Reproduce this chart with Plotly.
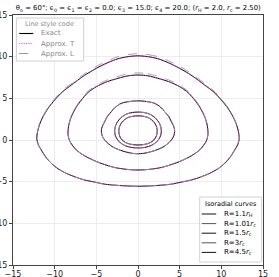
import plotly.graph_objects as go

# Right halves (x >= 0) of the isoradial curves, from top (x=0) to bottom (x=0); curves are mirror-symmetric in x
r45_x = [0.0, 1.2, 2.4, 3.7, 5.0, 6.5, 8.0, 9.1, 10.0, 10.8, 11.4, 11.8, 12.05, 12.15, 11.95, 11.6, 11.1, 10.4, 9.6, 8.6, 7.5, 6.4, 5.2, 4.0, 2.8, 1.6, 0.0]
r45_y = [10.1, 10.0, 9.75, 9.25, 8.6, 7.7, 6.6, 5.75, 4.8, 3.8, 2.8, 1.9, 1.0, 0.2, -0.6, -1.2, -2.0, -2.8, -3.45, -4.0, -4.45, -4.8, -5.05, -5.3, -5.42, -5.5, -5.55]
r45_L_y = [10.35, 10.25, 10.0, 9.48, 8.83, 7.9, 6.78, 5.9, 4.93, 3.9, 2.88, 1.95, 1.03, 0.2, -0.6, -1.2, -2.0, -2.8, -3.45, -4.0, -4.45, -4.8, -5.05, -5.3, -5.42, -5.5, -5.55]

r3_x = [0.0, 1.2, 2.4, 3.7, 5.0, 6.0, 6.8, 7.5, 8.0, 8.3, 8.4, 8.25, 7.9, 7.4, 6.4, 5.2, 4.0, 2.8, 1.4, 0.0]
r3_y = [7.8, 7.7, 7.4, 7.0, 6.4, 5.7, 4.8, 3.8, 2.8, 1.8, 0.8, 0.0, -0.6, -1.2, -1.9, -2.5, -2.95, -3.3, -3.52, -3.6]
r3_L_y = [8.05, 7.95, 7.63, 7.2, 6.58, 5.85, 4.93, 3.9, 2.88, 1.84, 0.82, 0.0, -0.6, -1.2, -1.9, -2.5, -2.95, -3.3, -3.52, -3.6]

r15_x = [0.0, 1.0, 2.0, 2.7, 3.2, 3.7, 4.0, 4.3, 4.4, 4.3, 4.0, 3.55, 3.0, 2.2, 1.4, 0.7, 0.0]
r15_y = [4.7, 4.62, 4.4, 3.95, 3.4, 2.8, 2.2, 1.6, 1.1, 0.5, 0.0, -0.45, -0.85, -1.2, -1.45, -1.6, -1.65]

r101_x = [0.0, 0.7, 1.4, 1.9, 2.3, 2.6, 2.75, 2.8, 2.72, 2.5, 2.1, 1.6, 1.0, 0.5, 0.0]
r101_y = [3.35, 3.3, 3.1, 2.8, 2.4, 1.95, 1.5, 1.0, 0.55, 0.1, -0.35, -0.65, -0.85, -0.93, -0.95]

r11h_x = [0.0, 0.6, 1.2, 1.6, 1.95, 2.2, 2.3, 2.28, 2.15, 1.9, 1.5, 1.0, 0.5, 0.0]
r11h_y = [2.9, 2.85, 2.7, 2.45, 2.1, 1.65, 1.2, 0.8, 0.35, 0.0, -0.3, -0.48, -0.57, -0.6]

curve_names = ["R=1.1<i>r</i><sub>H</sub>", "R=1.01<i>r</i><sub>c</sub>", "R=1.5<i>r</i><sub>c</sub>",
               "R=3<i>r</i><sub>c</sub>", "R=4.5<i>r</i><sub>c</sub>"]
exact = [(r11h_x, r11h_y), (r101_x, r101_y), (r15_x, r15_y), (r3_x, r3_y), (r45_x, r45_y)]
approx_T = exact
approx_L = [(r11h_x, r11h_y), (r101_x, r101_y), (r15_x, r15_y), (r3_x, r3_L_y), (r45_x, r45_L_y)]
legend_colors = ["#111111", "#555555", "#111111", "#555555", "#111111"]

style_names = ["Exact", "Approx. T", "Approx. L"]
style_colors = ["black", "#ff33ff", "#999999"]
style_dash = ["solid", "1px,1.3px", "dash"]

tick_vals = [-15, -10, -5, 0, 5, 10, 15]
tick_text = ["−15", "−10", "−5", "0", "5", "10", "15"]


def closed(hx, hy):
    xs = list(hx) + [-v for v in reversed(hx[:-1])]
    ys = list(hy) + list(reversed(hy[:-1]))
    return xs, ys


fig = go.Figure()

for group, col, dsh, w, op in [(exact, "black", "solid", 1.0, 1.0),
                               (approx_T, "#ee33ee", "1px,1.3px", 1.0, 0.9),
                               (approx_L, "#999999", "dash", 0.9, 1.0)]:
    for i, (hx, hy) in enumerate(group):
        xs, ys = closed(hx, hy)
        fig.add_trace(go.Scatter(x=xs, y=ys, mode="lines", name=curve_names[i], showlegend=False,
                                 opacity=op, line=dict(color=col, width=w, dash=dsh, shape="spline",
                                                       smoothing=0.8)))

# plot area in pixels: x 13.3..263.3, y 15..265
def px_x(p):
    return (p - 13.3) / 250.0


def px_y(p):
    return (265.0 - p) / 250.0


shapes = []
annotations = []

# Legend 1: line style code (top-left)
shapes.append(dict(type="rect", xref="paper", yref="paper", x0=px_x(16.7), x1=px_x(84), y0=px_y(61), y1=px_y(18),
                   line=dict(color="#d0d0d0", width=1), fillcolor="rgba(255,255,255,0.85)", layer="above"))
annotations.append(dict(xref="paper", yref="paper", x=px_x(50), y=px_y(24), text="Line style code",
                        showarrow=False, xanchor="center", yanchor="middle",
                        font=dict(size=6.5, color="#888888")))
for k, nm in enumerate(style_names):
    yy = px_y(33.5 + 10 * k)
    shapes.append(dict(type="line", xref="paper", yref="paper", x0=px_x(19.5), x1=px_x(33.5), y0=yy, y1=yy,
                       line=dict(color=style_colors[k], width=1.1, dash=style_dash[k]), layer="above"))
    annotations.append(dict(xref="paper", yref="paper", x=px_x(39), y=yy, text=nm, showarrow=False,
                            xanchor="left", yanchor="middle", font=dict(size=7, color="#888888")))

# Legend 2: isoradial curves (bottom-right)
shapes.append(dict(type="rect", xref="paper", yref="paper", x0=px_x(200), x1=px_x(262), y0=px_y(262), y1=px_y(197),
                   line=dict(color="#d0d0d0", width=1), fillcolor="rgba(255,255,255,0.85)", layer="above"))
annotations.append(dict(xref="paper", yref="paper", x=px_x(231), y=px_y(204), text="Isoradial curves",
                        showarrow=False, xanchor="center", yanchor="middle",
                        font=dict(size=6.5, color="black")))
for k, nm in enumerate(curve_names):
    yy = px_y(214 + 9.6 * k)
    shapes.append(dict(type="line", xref="paper", yref="paper", x0=px_x(202), x1=px_x(216.5), y0=yy, y1=yy,
                       line=dict(color=legend_colors[k], width=1), layer="above"))
    annotations.append(dict(xref="paper", yref="paper", x=px_x(222), y=yy, text=nm, showarrow=False,
                            xanchor="left", yanchor="middle", font=dict(size=7, color="black")))

axis_common = dict(range=[-15, 15], tickmode="array", tickvals=tick_vals, ticktext=tick_text,
                   showgrid=True, gridcolor="#e8e8e8", gridwidth=0.8, automargin=False,
                   zeroline=False, showline=True, mirror=True, linecolor="#444444", linewidth=1,
                   ticks="outside", ticklen=3, tickcolor="#444444", tickfont=dict(size=8, color="#222222"))

fig.update_layout(
    width=279, height=277,
    margin=dict(l=13, r=16, t=15, b=12),
    paper_bgcolor="white", plot_bgcolor="white",
    font=dict(family="DejaVu Sans", size=8),
    showlegend=False,
    title=dict(text="θ<sub>o</sub> = 60°; ϵ<sub>0</sub> = ϵ<sub>1</sub> = ϵ<sub>2</sub> = 0.0; ϵ<sub>3</sub> = 15.0; "
                    "ϵ<sub>4</sub> = 20.0; (<i>r</i><sub>H</sub> = 2.0, <i>r</i><sub>c</sub> = 2.50)",
               x=138.3 / 279, xanchor="center", y=1 - 8 / 277, yanchor="middle",
               font=dict(size=6.9, color="black")),
    xaxis=dict(ticklabelstandoff=-2, **axis_common),
    yaxis=axis_common,
    shapes=shapes,
    annotations=annotations,
)

fig.write_html("out.html", config={"displayModeBar": False, "staticPlot": True},
               post_script="document.body.style.margin='0';document.body.style.overflow='hidden';")
